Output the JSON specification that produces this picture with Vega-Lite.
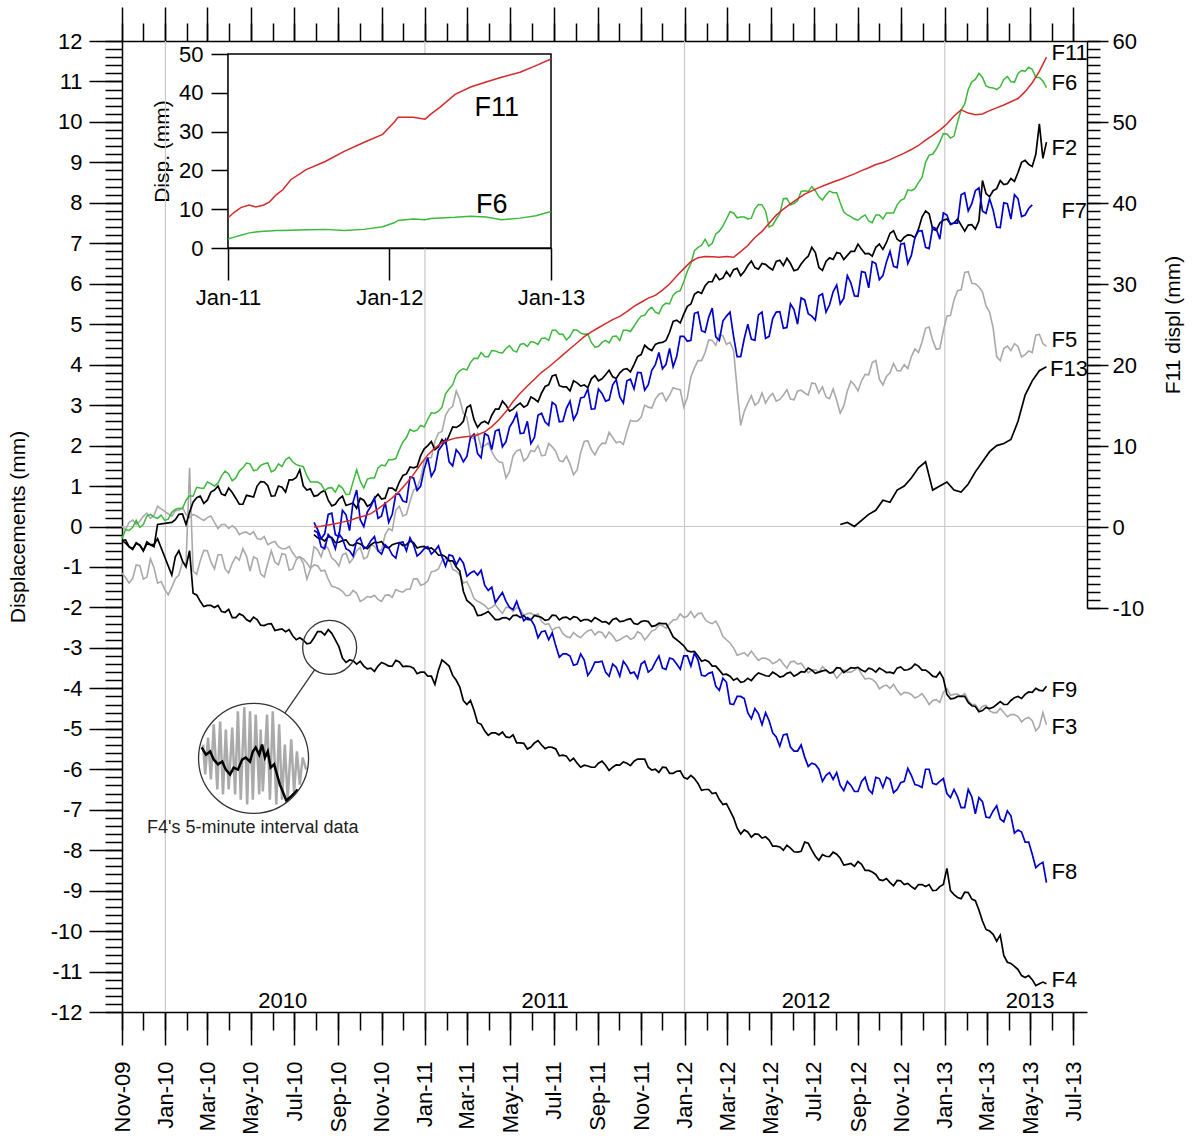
{
"$schema":"https://vega.github.io/schema/vega-lite/v6.json",
"width":965,"height":971,
"autosize":{"type":"none"},
"padding":{"left":122,"top":41,"right":107,"bottom":129},
"background":"white",
"config":{"view":{"stroke":null},"font":"Liberation Sans",
 "axis":{"domainColor":"#000","domainWidth":1.5,"tickColor":"#000","tickWidth":1.5,"labelColor":"#000","labelFont":"Liberation Sans","labelFontSize":22,"titleFont":"Liberation Sans","titleColor":"#000","titleFontWeight":"normal","titleFontSize":21,"grid":false,"labelFlush":false,"labelOverlap":false,"labelBound":false}},
"resolve":{"scale":{"x":"independent","y":"independent","color":"independent"},"axis":{"x":"independent","y":"independent"}},
"datasets":{
"years":[{"t":"2010-01-01"},{"t":"2011-01-01"},{"t":"2012-01-01"},{"t":"2013-01-01"}],
"main":[
{"t":"2009-11-01","F2":-0.35,"F3":0,"F4":-0.35,"F5":-1.15,"F6":-0.3},
{"t":"2009-11-11","F2":-0.5,"F3":0.1,"F4":-0.5,"F5":-1.4,"F6":-0.1},
{"t":"2009-11-21","F2":-0.4,"F3":0.05,"F4":-0.42,"F5":-0.95,"F6":0.15},
{"t":"2009-12-01","F2":-0.6,"F3":0.25,"F4":-0.6,"F5":-1.3,"F6":0.05},
{"t":"2009-12-11","F2":-0.45,"F3":0.2,"F4":-0.45,"F5":-0.8,"F6":0.3},
{"t":"2009-12-21","F2":0.05,"F3":0.5,"F4":-0.3,"F5":-1.4,"F6":0.2},
{"t":"2009-12-31","F5":-1.55,"F6":0.15},
{"t":"2010-01-10","F2":0.1,"F3":0.25,"F4":-1.2,"F5":-1.5,"F6":0.35},
{"t":"2010-01-20","F2":0.3,"F3":0.4,"F4":-0.6,"F5":-1.2,"F6":0.45},
{"t":"2010-01-30","F2":0.05,"F3":0.3,"F4":-1.0,"F5":-0.95,"F6":0.65},
{"t":"2010-02-04","F2":0.35,"F3":0.22,"F4":-0.6,"F5":1.45,"F6":0.76},
{"t":"2010-02-09","F2":0.6,"F3":0.3,"F4":-1.65,"F5":-1.1,"F6":0.75},
{"t":"2010-02-19","F2":0.75,"F3":0.2,"F4":-1.85,"F5":-0.85,"F6":0.95},
{"t":"2010-03-01","F2":0.65,"F3":0.22,"F4":-1.95,"F5":-0.6,"F6":1.1},
{"t":"2010-03-11","F2":0.9,"F3":0.1,"F4":-2.0,"F5":-1.05,"F6":1.0},
{"t":"2010-03-21","F2":0.8,"F3":0.05,"F4":-2.1,"F5":-0.7,"F6":1.25},
{"t":"2010-03-31","F2":0.95,"F3":-0.05,"F4":-2.05,"F5":-1.15,"F6":1.3},
{"t":"2010-04-10","F2":0.7,"F3":-0.05,"F4":-2.25,"F5":-0.75,"F6":1.2},
{"t":"2010-04-20","F2":0.55,"F3":-0.15,"F4":-2.2,"F5":-0.55,"F6":1.45},
{"t":"2010-04-30","F2":0.75,"F3":-0.2,"F4":-2.35,"F5":-1.1,"F6":1.55},
{"t":"2010-05-10","F2":1.0,"F3":-0.3,"F4":-2.3,"F5":-0.8,"F6":1.4},
{"t":"2010-05-20","F2":1.1,"F3":-0.25,"F4":-2.45,"F5":-1.25,"F6":1.55},
{"t":"2010-05-30","F2":0.75,"F3":-0.4,"F4":-2.4,"F5":-0.6,"F6":1.35},
{"t":"2010-06-09","F2":1.0,"F3":-0.5,"F4":-2.55,"F5":-0.95,"F6":1.55},
{"t":"2010-06-19","F2":0.85,"F3":-0.55,"F4":-2.6,"F5":-0.7,"F6":1.65},
{"t":"2010-06-29","F2":1.15,"F3":-0.65,"F4":-2.7,"F5":-1.05,"F6":1.6},
{"t":"2010-07-09","F2":1.4,"F3":-0.75,"F4":-2.75,"F5":-0.75,"F6":1.5},
{"t":"2010-07-19","F2":0.9,"F3":-0.9,"F4":-2.9,"F5":-1.3,"F6":1.25},
{"t":"2010-07-29","F2":0.75,"F3":-0.95,"F4":-2.75,"F5":-0.5,"F6":1.1,"F7":0.1,"F8":-0.1,"F9":-0.2,"F11":0},
{"t":"2010-08-08","F2":0.85,"F3":-1.1,"F4":-2.6,"F5":-0.75,"F6":1.05,"F7":-0.3,"F8":-0.5,"F9":-0.3,"F11":0.1},
{"t":"2010-08-18","F2":0.65,"F3":-1.3,"F4":-2.55,"F5":-0.55,"F6":0.95,"F7":0.3,"F8":-0.2,"F9":-0.25,"F11":0.25},
{"t":"2010-08-28","F2":0.55,"F3":-1.5,"F4":-2.8,"F5":-0.85,"F6":0.85,"F7":-0.2,"F8":-0.55,"F9":-0.4,"F11":0.4},
{"t":"2010-09-07","F2":0.75,"F3":-1.6,"F4":-3.25,"F5":-0.7,"F6":0.95,"F7":0.4,"F8":-0.3,"F9":-0.35,"F11":0.6},
{"t":"2010-09-17","F2":0.55,"F3":-1.7,"F4":-3.3,"F5":-0.9,"F6":0.8,"F7":-0.1,"F8":-0.6,"F9":-0.45,"F11":0.8},
{"t":"2010-09-27","F2":0.45,"F3":-1.65,"F4":-3.4,"F5":-0.6,"F6":1.4,"F7":0.9,"F8":-0.35,"F9":-0.4,"F11":1.1},
{"t":"2010-10-07","F2":0.65,"F3":-1.8,"F4":-3.45,"F5":-0.8,"F6":0.95,"F7":0.0,"F8":-0.55,"F9":-0.5,"F11":1.35},
{"t":"2010-10-17","F2":0.55,"F3":-1.75,"F4":-3.5,"F5":-0.45,"F6":1.2,"F7":0.5,"F8":-0.35,"F9":-0.45,"F11":1.65},
{"t":"2010-10-27","F2":0.8,"F3":-1.8,"F4":-3.45,"F5":-0.6,"F6":1.45,"F7":0.2,"F8":-0.6,"F9":-0.4,"F11":2.25},
{"t":"2010-11-06","F2":0.7,"F3":-1.7,"F4":-3.4,"F5":-0.2,"F6":1.5,"F7":0.6,"F8":-0.45,"F9":-0.5,"F11":2.9},
{"t":"2010-11-16","F2":0.95,"F3":-1.75,"F4":-3.45,"F5":-0.1,"F6":1.65,"F7":0.3,"F8":-0.7,"F9":-0.45,"F11":3.6},
{"t":"2010-11-26","F2":1.1,"F3":-1.6,"F4":-3.35,"F5":0.5,"F6":1.9,"F7":0.8,"F8":-0.4,"F9":-0.4,"F11":4.4},
{"t":"2010-12-06","F2":1.3,"F3":-1.55,"F4":-3.45,"F5":0.3,"F6":2.2,"F7":0.6,"F8":-0.6,"F9":-0.45,"F11":5.4},
{"t":"2010-12-16","F2":1.45,"F3":-1.3,"F4":-3.5,"F5":0.9,"F6":2.35,"F7":1.2,"F8":-0.45,"F9":-0.4,"F11":6.5},
{"t":"2010-12-26","F2":1.75,"F3":-1.45,"F4":-3.6,"F5":1.2,"F6":2.5,"F7":1.0,"F8":-0.65,"F9":-0.5,"F11":7.75},
{"t":"2011-01-05","F2":2.0,"F3":-1.35,"F4":-3.7,"F5":1.7,"F6":2.65,"F7":1.7,"F8":-0.5,"F9":-0.55,"F11":8.9},
{"t":"2011-01-15","F2":1.9,"F3":-1.1,"F4":-3.9,"F5":2.1,"F6":2.8,"F7":1.4,"F8":-0.6,"F9":-0.6,"F11":9.75},
{"t":"2011-01-25","F2":2.15,"F3":-0.85,"F4":-3.3,"F5":2.35,"F6":2.95,"F7":2.0,"F8":-0.75,"F9":-0.7,"F11":10.4},
{"t":"2011-02-04","F2":2.25,"F3":-0.8,"F4":-3.45,"F5":2.9,"F6":3.4,"F7":1.6,"F8":-0.7,"F9":-0.85,"F11":10.75},
{"t":"2011-02-14","F2":2.45,"F3":-1.1,"F4":-3.8,"F5":3.35,"F6":3.75,"F7":1.9,"F8":-0.95,"F9":-1.0,"F11":11.0},
{"t":"2011-02-24","F2":2.6,"F3":-1.4,"F4":-4.3,"F5":2.8,"F6":3.9,"F7":1.6,"F8":-0.9,"F9":-1.6,"F11":11.1},
{"t":"2011-03-06","F2":3.0,"F3":-1.55,"F4":-4.3,"F5":2.2,"F6":4.05,"F7":2.2,"F8":-1.15,"F9":-1.9,"F11":11.2},
{"t":"2011-03-16","F2":2.45,"F3":-1.85,"F4":-4.85,"F5":2.3,"F6":4.15,"F7":1.8,"F8":-1.2,"F9":-2.2,"F11":11.4},
{"t":"2011-03-26","F2":2.6,"F3":-1.95,"F4":-5.05,"F5":2.0,"F6":4.2,"F7":2.3,"F8":-1.45,"F9":-2.15,"F11":11.75},
{"t":"2011-04-05","F2":2.75,"F3":-2.0,"F4":-5.1,"F5":1.85,"F6":4.35,"F7":1.9,"F8":-1.5,"F9":-2.2,"F11":12.4},
{"t":"2011-04-15","F2":2.9,"F3":-2.05,"F4":-5.15,"F5":1.6,"F6":4.3,"F7":2.4,"F8":-1.75,"F9":-2.3,"F11":13.25},
{"t":"2011-04-25","F2":3.0,"F3":-2.0,"F4":-5.2,"F5":1.2,"F6":4.4,"F7":2.1,"F8":-1.85,"F9":-2.25,"F11":14.25},
{"t":"2011-05-05","F2":2.9,"F3":-2.1,"F4":-5.15,"F5":1.75,"F6":4.35,"F7":2.6,"F8":-2.05,"F9":-2.2,"F11":15.5},
{"t":"2011-05-15","F2":3.05,"F3":-2.05,"F4":-5.35,"F5":1.9,"F6":4.5,"F7":2.3,"F8":-2.1,"F9":-2.25,"F11":16.5},
{"t":"2011-05-25","F2":3.0,"F3":-2.15,"F4":-5.5,"F5":1.7,"F6":4.45,"F7":2.6,"F8":-2.25,"F9":-2.3,"F11":17.4},
{"t":"2011-06-04","F2":3.15,"F3":-2.2,"F4":-5.35,"F5":1.85,"F6":4.55,"F7":2.2,"F8":-2.45,"F9":-2.2,"F11":18.25},
{"t":"2011-06-14","F2":3.3,"F3":-2.35,"F4":-5.4,"F5":1.75,"F6":4.65,"F7":2.8,"F8":-2.6,"F9":-2.25,"F11":19.1},
{"t":"2011-06-24","F2":3.5,"F3":-2.4,"F4":-5.45,"F5":2.05,"F6":4.6,"F7":2.5,"F8":-2.8,"F9":-2.3,"F11":19.75},
{"t":"2011-07-04","F2":3.75,"F3":-2.5,"F4":-5.5,"F5":1.85,"F6":4.85,"F7":3.0,"F8":-2.95,"F9":-2.2,"F11":20.5},
{"t":"2011-07-14","F2":3.45,"F3":-2.65,"F4":-5.65,"F5":1.6,"F6":4.75,"F7":2.6,"F8":-3.15,"F9":-2.25,"F11":21.25},
{"t":"2011-07-24","F2":3.35,"F3":-2.75,"F4":-5.8,"F5":1.55,"F6":4.7,"F7":3.1,"F8":-3.2,"F9":-2.3,"F11":22.0},
{"t":"2011-08-03","F2":3.55,"F3":-2.7,"F4":-5.85,"F5":1.4,"F6":4.85,"F7":2.8,"F8":-3.4,"F9":-2.25,"F11":22.75},
{"t":"2011-08-13","F2":3.5,"F3":-2.65,"F4":-5.9,"F5":2.1,"F6":4.75,"F7":3.2,"F8":-3.3,"F9":-2.3,"F11":23.5},
{"t":"2011-08-23","F2":3.65,"F3":-2.55,"F4":-5.95,"F5":1.9,"F6":4.55,"F7":2.9,"F8":-3.55,"F9":-2.35,"F11":24.1},
{"t":"2011-09-02","F2":3.6,"F3":-2.6,"F4":-5.85,"F5":1.95,"F6":4.45,"F7":3.4,"F8":-3.35,"F9":-2.3,"F11":24.6},
{"t":"2011-09-12","F2":3.75,"F3":-2.75,"F4":-5.9,"F5":2.05,"F6":4.6,"F7":3.1,"F8":-3.6,"F9":-2.35,"F11":25.1},
{"t":"2011-09-22","F2":3.7,"F3":-2.7,"F4":-5.95,"F5":2.2,"F6":4.7,"F7":3.5,"F8":-3.4,"F9":-2.3,"F11":25.6},
{"t":"2011-10-02","F2":3.8,"F3":-2.8,"F4":-5.9,"F5":2.1,"F6":4.6,"F7":3.2,"F8":-3.7,"F9":-2.35,"F11":26.0},
{"t":"2011-10-12","F2":3.9,"F3":-2.7,"F4":-5.85,"F5":2.35,"F6":4.85,"F7":3.6,"F8":-3.45,"F9":-2.3,"F11":26.6},
{"t":"2011-10-22","F2":4.0,"F3":-2.75,"F4":-5.8,"F5":2.6,"F6":4.95,"F7":3.4,"F8":-3.6,"F9":-2.4,"F11":27.25},
{"t":"2011-11-01","F2":4.25,"F3":-2.65,"F4":-5.75,"F5":2.7,"F6":5.2,"F7":3.8,"F8":-3.4,"F9":-2.35,"F11":27.75},
{"t":"2011-11-11","F2":4.4,"F3":-2.7,"F4":-5.95,"F5":2.95,"F6":5.35,"F7":3.5,"F8":-3.6,"F9":-2.35,"F11":28.25},
{"t":"2011-11-21","F2":4.5,"F3":-2.55,"F4":-6.0,"F5":3.15,"F6":5.3,"F7":4.0,"F8":-3.35,"F9":-2.45,"F11":28.6},
{"t":"2011-12-01","F2":4.55,"F3":-2.45,"F4":-5.95,"F5":3.3,"F6":5.45,"F7":3.9,"F8":-3.5,"F9":-2.4,"F11":29.25},
{"t":"2011-12-11","F2":4.8,"F3":-2.4,"F4":-6.1,"F5":3.25,"F6":5.5,"F7":4.4,"F8":-3.25,"F9":-2.55,"F11":30.0},
{"t":"2011-12-21","F2":5.1,"F3":-2.3,"F4":-6.05,"F5":3.4,"F6":5.8,"F7":4.2,"F8":-3.4,"F9":-2.8,"F11":31.0},
{"t":"2011-12-31","F2":5.25,"F3":-2.25,"F4":-6.2,"F5":2.95,"F6":6.05,"F7":4.7,"F8":-3.2,"F9":-2.95,"F11":31.9},
{"t":"2012-01-10","F2":5.5,"F3":-2.1,"F4":-6.15,"F5":3.7,"F6":6.5,"F7":4.6,"F8":-3.45,"F9":-3.1,"F11":32.75},
{"t":"2012-01-20","F2":5.8,"F3":-2.15,"F4":-6.35,"F5":4.1,"F6":6.9,"F7":5.3,"F8":-3.3,"F9":-3.2,"F11":33.25},
{"t":"2012-01-30","F2":5.95,"F3":-2.3,"F4":-6.5,"F5":4.3,"F6":7.1,"F7":4.8,"F8":-3.7,"F9":-3.3,"F11":33.4},
{"t":"2012-02-09","F2":6.05,"F3":-2.4,"F4":-6.6,"F5":4.6,"F6":7.0,"F7":5.4,"F8":-3.6,"F9":-3.45,"F11":33.35},
{"t":"2012-02-19","F2":6.1,"F3":-2.5,"F4":-6.75,"F5":4.75,"F6":7.3,"F7":4.6,"F8":-4.05,"F9":-3.55,"F11":33.3},
{"t":"2012-02-29","F2":6.3,"F3":-2.8,"F4":-6.85,"F5":4.5,"F6":7.6,"F7":5.2,"F8":-3.85,"F9":-3.65,"F11":33.4},
{"t":"2012-03-10","F2":6.35,"F3":-3.0,"F4":-7.2,"F5":4.35,"F6":7.75,"F7":4.7,"F8":-4.4,"F9":-3.8,"F11":33.3},
{"t":"2012-03-20","F2":6.2,"F3":-3.15,"F4":-7.6,"F5":2.5,"F6":7.65,"F7":4.2,"F8":-4.2,"F9":-3.85,"F11":34.0},
{"t":"2012-03-30","F2":6.45,"F3":-3.2,"F4":-7.55,"F5":3.05,"F6":7.6,"F7":5.0,"F8":-4.6,"F9":-3.75,"F11":34.75},
{"t":"2012-04-09","F2":6.4,"F3":-3.2,"F4":-7.6,"F5":3.0,"F6":7.85,"F7":4.6,"F8":-4.5,"F9":-3.7,"F11":35.75},
{"t":"2012-04-19","F2":6.5,"F3":-3.25,"F4":-7.7,"F5":3.3,"F6":7.95,"F7":5.3,"F8":-4.9,"F9":-3.65,"F11":36.5},
{"t":"2012-04-29","F2":6.4,"F3":-3.3,"F4":-7.75,"F5":3.2,"F6":7.4,"F7":4.7,"F8":-4.8,"F9":-3.7,"F11":37.5},
{"t":"2012-05-09","F2":6.55,"F3":-3.35,"F4":-7.9,"F5":3.1,"F6":7.6,"F7":5.3,"F8":-5.2,"F9":-3.65,"F11":38.5},
{"t":"2012-05-19","F2":6.45,"F3":-3.4,"F4":-8.0,"F5":3.25,"F6":8.1,"F7":4.9,"F8":-5.15,"F9":-3.7,"F11":39.25},
{"t":"2012-05-29","F2":6.5,"F3":-3.35,"F4":-7.95,"F5":3.15,"F6":7.95,"F7":5.5,"F8":-5.45,"F9":-3.6,"F11":39.9},
{"t":"2012-06-08","F2":6.35,"F3":-3.4,"F4":-8.05,"F5":3.35,"F6":8.05,"F7":5.0,"F8":-5.55,"F9":-3.65,"F11":40.5},
{"t":"2012-06-18","F2":6.6,"F3":-3.5,"F4":-7.8,"F5":3.3,"F6":8.3,"F7":5.6,"F8":-5.7,"F9":-3.6,"F11":41.1},
{"t":"2012-06-28","F2":6.9,"F3":-3.55,"F4":-8.0,"F5":3.55,"F6":8.4,"F7":5.2,"F8":-5.85,"F9":-3.55,"F11":41.5},
{"t":"2012-07-08","F2":6.4,"F3":-3.6,"F4":-8.25,"F5":3.3,"F6":8.15,"F7":5.7,"F8":-6.0,"F9":-3.6,"F11":41.9},
{"t":"2012-07-18","F2":6.55,"F3":-3.55,"F4":-8.15,"F5":3.2,"F6":8.2,"F7":5.3,"F8":-6.15,"F9":-3.55,"F11":42.25},
{"t":"2012-07-28","F2":6.6,"F3":-3.6,"F4":-8.05,"F5":3.4,"F6":8.25,"F7":5.8,"F8":-6.25,"F9":-3.6,"F11":42.6},
{"t":"2012-08-07","F2":6.75,"F3":-3.65,"F4":-8.2,"F5":2.8,"F6":8.0,"F7":5.5,"F8":-6.4,"F9":-3.5,"F11":42.9,"F13":0.05},
{"t":"2012-08-17","F2":6.7,"F3":-3.6,"F4":-8.35,"F5":3.35,"F6":7.7,"F7":6.2,"F8":-6.3,"F9":-3.55,"F11":43.25,"F13":0.1},
{"t":"2012-08-27","F2":6.8,"F3":-3.55,"F4":-8.4,"F5":3.5,"F6":7.6,"F7":5.7,"F8":-6.55,"F9":-3.5,"F11":43.6,"F13":0.0},
{"t":"2012-09-06","F2":6.85,"F3":-3.65,"F4":-8.35,"F5":3.6,"F6":7.65,"F7":6.3,"F8":-6.3,"F9":-3.55,"F11":44.0,"F13":0.15},
{"t":"2012-09-16","F2":6.75,"F3":-3.75,"F4":-8.5,"F5":3.75,"F6":7.55,"F7":5.9,"F8":-6.5,"F9":-3.5,"F11":44.35,"F13":0.3},
{"t":"2012-09-26","F2":6.9,"F3":-3.85,"F4":-8.6,"F5":4.1,"F6":7.7,"F7":6.5,"F8":-6.2,"F9":-3.6,"F11":44.75,"F13":0.4},
{"t":"2012-10-06","F2":6.85,"F3":-3.95,"F4":-8.75,"F5":3.5,"F6":7.6,"F7":6.2,"F8":-6.45,"F9":-3.55,"F11":45.0,"F13":0.65},
{"t":"2012-10-16","F2":7.25,"F3":-4.0,"F4":-8.8,"F5":3.8,"F6":7.75,"F7":6.8,"F8":-6.25,"F9":-3.6,"F11":45.35,"F13":0.6},
{"t":"2012-10-26","F2":7.1,"F3":-4.05,"F4":-8.75,"F5":3.85,"F6":7.95,"F7":6.4,"F8":-6.5,"F9":-3.5,"F11":45.75,"F13":0.9},
{"t":"2012-11-05","F2":7.15,"F3":-4.1,"F4":-8.85,"F5":4.0,"F6":8.1,"F7":7.0,"F8":-6.3,"F9":-3.55,"F11":46.15,"F13":1.0},
{"t":"2012-11-15","F2":7.2,"F3":-4.15,"F4":-8.9,"F5":4.2,"F6":8.3,"F7":6.7,"F8":-6.15,"F9":-3.5,"F11":46.6,"F13":1.2},
{"t":"2012-11-25","F2":7.35,"F3":-4.2,"F4":-8.85,"F5":4.3,"F6":8.5,"F7":7.3,"F8":-6.4,"F9":-3.45,"F11":47.1,"F13":1.45},
{"t":"2012-12-05","F2":7.8,"F3":-4.25,"F4":-8.9,"F5":4.9,"F6":9.0,"F7":6.9,"F8":-6.0,"F9":-3.55,"F11":47.75,"F13":1.6},
{"t":"2012-12-15","F2":7.35,"F3":-4.3,"F4":-9.0,"F5":4.6,"F6":9.2,"F7":7.4,"F8":-6.35,"F9":-3.7,"F11":48.35,"F13":0.9},
{"t":"2012-12-25","F2":7.5,"F3":-4.35,"F4":-8.9,"F5":4.4,"F6":9.5,"F7":7.1,"F8":-6.3,"F9":-3.6,"F11":49.0,"F13":1.0},
{"t":"2013-01-04","F2":7.6,"F3":-4.0,"F4":-8.45,"F5":5.2,"F6":9.7,"F7":7.7,"F8":-6.6,"F9":-4.15,"F11":49.75,"F13":1.1},
{"t":"2013-01-14","F2":7.5,"F3":-4.15,"F4":-9.1,"F5":5.6,"F6":9.65,"F7":7.5,"F8":-6.5,"F9":-4.25,"F11":50.75,"F13":0.9},
{"t":"2013-01-24","F2":7.45,"F3":-4.2,"F4":-9.2,"F5":5.85,"F6":10.3,"F7":8.2,"F8":-6.95,"F9":-4.2,"F11":51.5,"F13":0.85},
{"t":"2013-02-03","F2":7.45,"F3":-4.3,"F4":-9.05,"F5":6.3,"F6":10.8,"F7":7.8,"F8":-6.5,"F9":-4.35,"F11":51.1,"F13":1.05},
{"t":"2013-02-13","F2":7.35,"F3":-4.4,"F4":-9.25,"F5":6.0,"F6":11.05,"F7":8.3,"F8":-7.1,"F9":-4.45,"F11":50.9,"F13":1.35},
{"t":"2013-02-23","F2":8.55,"F3":-4.45,"F4":-9.75,"F5":5.8,"F6":11.1,"F7":7.8,"F8":-6.8,"F9":-4.55,"F11":51.0,"F13":1.6},
{"t":"2013-03-05","F2":8.15,"F3":-4.55,"F4":-10.0,"F5":5.3,"F6":10.85,"F7":8.1,"F8":-7.2,"F9":-4.5,"F11":51.4,"F13":1.85},
{"t":"2013-03-15","F2":8.35,"F3":-4.6,"F4":-10.25,"F5":4.2,"F6":10.8,"F7":7.4,"F8":-6.9,"F9":-4.4,"F11":51.75,"F13":2.0},
{"t":"2013-03-25","F2":8.45,"F3":-4.6,"F4":-10.6,"F5":4.4,"F6":11.05,"F7":8.0,"F8":-7.3,"F9":-4.4,"F11":52.1,"F13":2.05},
{"t":"2013-04-04","F2":8.6,"F3":-4.65,"F4":-10.8,"F5":4.35,"F6":11.0,"F7":7.6,"F8":-7.15,"F9":-4.3,"F11":52.5,"F13":2.15},
{"t":"2013-04-14","F2":8.75,"F3":-4.7,"F4":-10.95,"F5":4.45,"F6":11.2,"F7":8.1,"F8":-7.5,"F9":-4.2,"F11":52.9,"F13":2.6},
{"t":"2013-04-24","F2":9.05,"F3":-4.75,"F4":-11.15,"F5":4.25,"F6":11.25,"F7":7.7,"F8":-7.8,"F9":-4.15,"F11":53.75,"F13":3.25},
{"t":"2013-05-04","F2":8.9,"F3":-4.8,"F4":-11.2,"F5":4.3,"F6":11.3,"F7":7.95,"F8":-8.1,"F9":-4.1,"F11":54.85,"F13":3.6},
{"t":"2013-05-14","F2":9.95,"F3":-4.95,"F4":-11.3,"F5":4.75,"F6":11.1,"F8":-8.35,"F9":-4.05,"F11":56.25,"F13":3.85},
{"t":"2013-05-24","F2":9.5,"F3":-4.9,"F4":-11.3,"F5":4.45,"F6":10.85,"F8":-8.8,"F9":-3.95,"F11":58.0,"F13":3.95},
{"t":"2009-11-06","F2":-0.33,"F3":-0.07,"F4":-0.41,"F5":-1.26,"F6":-0.08},
{"t":"2009-11-16","F2":-0.57,"F3":0.16,"F4":-0.55,"F5":-1.28,"F6":-0.02},
{"t":"2009-11-26","F2":-0.46,"F3":0.13,"F4":-0.46,"F5":-0.97,"F6":-0.02},
{"t":"2009-12-06","F2":-0.38,"F3":0.33,"F4":-0.43,"F5":-1.25,"F6":0.26},
{"t":"2009-12-16","F2":-0.5,"F3":0.28,"F4":-0.45,"F5":-1.02,"F6":0.23},
{"t":"2009-12-26","F5":-1.36,"F6":0.28},
{"t":"2010-01-05","F5":-1.69,"F6":0.18},
{"t":"2010-01-15","F2":0.17,"F3":0.39,"F4":-0.75,"F5":-1.29,"F6":0.42},
{"t":"2010-01-25","F2":0.31,"F3":0.47,"F4":-0.85,"F5":-0.88,"F6":0.44},
{"t":"2010-02-14","F2":0.71,"F3":0.26,"F4":-1.69,"F5":-1.18,"F6":0.97},
{"t":"2010-02-24","F2":0.57,"F3":0.15,"F4":-1.98,"F5":-0.59,"F6":0.94},
{"t":"2010-03-06","F2":0.85,"F3":0.26,"F4":-1.95,"F5":-0.87,"F6":1.06},
{"t":"2010-03-16","F2":1.0,"F3":-0.05,"F4":-1.95,"F5":-0.7,"F6":1.07},
{"t":"2010-03-26","F2":0.77,"F3":0.05,"F4":-2.12,"F5":-1.05,"F6":1.37},
{"t":"2010-04-05","F2":0.84,"F3":0.02,"F4":-2.25,"F5":-0.91,"F6":1.13},
{"t":"2010-04-15","F2":0.55,"F3":-0.2,"F4":-2.16,"F5":-0.83,"F6":1.37},
{"t":"2010-04-25","F2":0.77,"F3":-0.14,"F4":-2.3,"F5":-0.73,"F6":1.57},
{"t":"2010-05-05","F2":0.73,"F3":-0.13,"F4":-2.24,"F5":-0.75,"F6":1.38},
{"t":"2010-05-15","F2":1.11,"F3":-0.32,"F4":-2.44,"F5":-1.17,"F6":1.51},
{"t":"2010-05-25","F2":1.01,"F3":-0.45,"F4":-2.41,"F5":-0.91,"F6":1.57},
{"t":"2010-06-04","F2":0.76,"F3":-0.37,"F4":-2.57,"F5":-0.88,"F6":1.4},
{"t":"2010-06-14","F2":0.97,"F3":-0.55,"F4":-2.53,"F5":-0.67,"F6":1.48},
{"t":"2010-06-24","F2":1.15,"F3":-0.49,"F4":-2.55,"F5":-1.08,"F6":1.71},
{"t":"2010-07-04","F2":1.21,"F3":-0.77,"F4":-2.8,"F5":-0.82,"F6":1.53},
{"t":"2010-07-14","F2":1.0,"F3":-0.8,"F4":-2.81,"F5":-0.91,"F6":1.48},
{"t":"2010-07-24","F2":0.93,"F3":-1.03,"F4":-2.88,"F5":-1.06,"F6":1.1},
{"t":"2010-08-03","F2":0.77,"F3":-0.97,"F4":-2.6,"F5":-0.57,"F6":1.1,"F7":-0.07,"F8":-0.15,"F9":-0.28},
{"t":"2010-08-13","F2":0.89,"F3":-1.08,"F4":-2.68,"F5":-0.45,"F6":0.89,"F7":-0.18,"F8":-0.55,"F9":-0.36},
{"t":"2010-08-23","F2":0.51,"F3":-1.48,"F4":-2.64,"F5":-0.78,"F6":0.96,"F7":0.33,"F8":-0.3,"F9":-0.27},
{"t":"2010-09-02","F2":0.68,"F3":-1.54,"F4":-2.97,"F5":-0.98,"F6":1.02,"F7":-0.25,"F8":-0.18,"F9":-0.39},
{"t":"2010-09-12","F2":0.52,"F3":-1.71,"F4":-3.36,"F5":-0.66,"F6":0.79,"F7":0.29,"F8":-0.55,"F9":-0.33},
{"t":"2010-09-22","F2":0.58,"F3":-1.58,"F4":-3.32,"F5":-0.79,"F6":1.11,"F7":0.61,"F8":-0.73,"F9":-0.47},
{"t":"2010-10-02","F2":0.7,"F3":-1.85,"F4":-3.33,"F5":-0.52,"F6":1.12,"F7":0.17,"F8":-0.28,"F9":-0.43},
{"t":"2010-10-12","F2":0.5,"F3":-1.73,"F4":-3.52,"F5":-0.75,"F6":1.17,"F7":0.36,"F8":-0.5,"F9":-0.55},
{"t":"2010-10-22","F2":0.69,"F3":-1.7,"F4":-3.58,"F5":-0.49,"F6":1.2,"F7":0.7,"F8":-0.25,"F9":-0.39},
{"t":"2010-11-01","F2":0.68,"F3":-1.85,"F4":-3.36,"F5":-0.58,"F6":1.52,"F7":0.26,"F8":-0.68,"F9":-0.37},
{"t":"2010-11-11","F2":0.95,"F3":-1.69,"F4":-3.45,"F5":-0.05,"F6":1.65,"F7":0.1,"F8":-0.53,"F9":-0.53},
{"t":"2010-11-21","F2":0.88,"F3":-1.56,"F4":-3.31,"F5":0.4,"F6":1.68,"F7":0.8,"F8":-0.78,"F9":-0.42},
{"t":"2010-12-01","F2":1.26,"F3":-1.62,"F4":-3.46,"F5":0.26,"F6":2.09,"F7":0.63,"F8":-0.38,"F9":-0.47},
{"t":"2010-12-11","F2":1.47,"F3":-1.55,"F4":-3.46,"F5":0.62,"F6":2.4,"F7":1.22,"F8":-0.28,"F9":-0.36},
{"t":"2010-12-21","F2":1.48,"F3":-1.29,"F4":-3.64,"F5":0.95,"F6":2.38,"F7":0.89,"F8":-0.73,"F9":-0.53},
{"t":"2010-12-31","F2":1.92,"F3":-1.42,"F4":-3.6,"F5":1.61,"F6":2.46,"F7":1.42,"F8":-0.55,"F9":-0.49},
{"t":"2011-01-10","F2":2.1,"F3":-1.12,"F4":-3.7,"F5":1.7,"F6":2.81,"F7":1.24,"F8":-0.68,"F9":-0.53},
{"t":"2011-01-20","F2":1.97,"F3":-1.05,"F4":-3.55,"F5":2.31,"F6":2.85,"F7":1.88,"F8":-0.48,"F9":-0.71},
{"t":"2011-01-30","F2":2.05,"F3":-0.8,"F4":-3.37,"F5":2.75,"F6":3.28,"F7":2.15,"F8":-0.98,"F9":-0.75},
{"t":"2011-02-09","F2":2.46,"F3":-1.06,"F4":-3.68,"F5":2.97,"F6":3.5,"F7":1.5,"F8":-0.73,"F9":-0.85},
{"t":"2011-02-19","F2":2.5,"F3":-1.19,"F4":-3.97,"F5":3.14,"F6":3.85,"F7":1.79,"F8":-0.78,"F9":-1.1},
{"t":"2011-03-01","F2":2.94,"F3":-1.36,"F4":-4.4,"F5":2.7,"F6":3.87,"F7":1.73,"F8":-1.23,"F9":-1.83},
{"t":"2011-03-11","F2":2.64,"F3":-1.78,"F4":-4.54,"F5":2.17,"F6":4.16,"F7":2.28,"F8":-1.1,"F9":-1.99},
{"t":"2011-03-21","F2":2.56,"F3":-1.89,"F4":-4.89,"F5":1.95,"F6":4.3,"F7":1.7,"F8":-1.08,"F9":-2.19},
{"t":"2011-03-31","F2":2.54,"F3":-2.04,"F4":-5.16,"F5":2.07,"F6":4.19,"F7":2.24,"F8":-1.58,"F9":-2.1},
{"t":"2011-04-10","F2":2.9,"F3":-1.93,"F4":-5.1,"F5":1.69,"F6":4.34,"F7":2.36,"F8":-1.88,"F9":-2.3},
{"t":"2011-04-20","F2":3.1,"F3":-2.15,"F4":-5.08,"F5":1.58,"F6":4.29,"F7":1.97,"F8":-1.63,"F9":-2.26},
{"t":"2011-04-30","F2":2.85,"F3":-2.0,"F4":-5.22,"F5":1.36,"F6":4.47,"F7":2.46,"F8":-2.0,"F9":-2.3},
{"t":"2011-05-10","F2":2.99,"F3":-2.0,"F4":-5.35,"F5":1.87,"F6":4.31,"F7":2.8,"F8":-1.85,"F9":-2.19},
{"t":"2011-05-20","F2":2.95,"F3":-2.2,"F4":-5.36,"F5":1.62,"F6":4.52,"F7":2.31,"F8":-2.33,"F9":-2.2},
{"t":"2011-05-30","F2":3.2,"F3":-2.14,"F4":-5.45,"F5":1.88,"F6":4.57,"F7":2.05,"F8":-2.3,"F9":-2.31},
{"t":"2011-06-09","F2":3.08,"F3":-2.16,"F4":-5.29,"F5":2.0,"F6":4.5,"F7":2.75,"F8":-2.75,"F9":-2.22},
{"t":"2011-06-19","F2":3.46,"F3":-2.42,"F4":-5.49,"F5":1.76,"F6":4.66,"F7":2.58,"F8":-2.58,"F9":-2.32},
{"t":"2011-06-29","F2":3.72,"F3":-2.57,"F4":-5.46,"F5":1.97,"F6":4.85,"F7":3.07,"F8":-2.63,"F9":-2.19},
{"t":"2011-07-09","F2":3.48,"F3":-2.49,"F4":-5.67,"F5":1.63,"F6":4.75,"F7":2.59,"F8":-3.23,"F9":-2.31},
{"t":"2011-07-19","F2":3.45,"F3":-2.72,"F4":-5.68,"F5":1.74,"F6":4.61,"F7":2.92,"F8":-3.15,"F9":-2.24},
{"t":"2011-07-29","F2":3.6,"F3":-2.62,"F4":-5.73,"F5":1.28,"F6":4.86,"F7":2.64,"F8":-3.43,"F9":-2.23},
{"t":"2011-08-08","F2":3.47,"F3":-2.75,"F4":-5.95,"F5":1.83,"F6":4.78,"F7":3.18,"F8":-3.15,"F9":-2.34},
{"t":"2011-08-18","F2":3.43,"F3":-2.58,"F4":-5.92,"F5":2.12,"F6":4.76,"F7":3.4,"F8":-3.68,"F9":-2.3},
{"t":"2011-08-28","F2":3.73,"F3":-2.68,"F4":-5.95,"F5":1.77,"F6":4.43,"F7":2.91,"F8":-3.35,"F9":-2.25},
{"t":"2011-09-07","F2":3.65,"F3":-2.62,"F4":-5.8,"F5":2.06,"F6":4.55,"F7":3.29,"F8":-3.33,"F9":-2.36},
{"t":"2011-09-17","F2":3.86,"F3":-2.61,"F4":-6.03,"F5":2.33,"F6":4.54,"F7":3.13,"F8":-3.7,"F9":-2.41},
{"t":"2011-09-27","F2":3.66,"F3":-2.83,"F4":-5.89,"F5":2.07,"F6":4.71,"F7":3.63,"F8":-3.48,"F9":-2.27},
{"t":"2011-10-07","F2":3.88,"F3":-2.74,"F4":-5.82,"F5":2.03,"F6":4.85,"F7":3.05,"F8":-3.33,"F9":-2.34},
{"t":"2011-10-17","F2":3.82,"F3":-2.79,"F4":-5.91,"F5":2.62,"F6":4.82,"F7":3.64,"F8":-3.63,"F9":-2.28},
{"t":"2011-10-27","F2":4.2,"F3":-2.6,"F4":-5.75,"F5":2.61,"F6":5.09,"F7":3.81,"F8":-3.75,"F9":-2.42},
{"t":"2011-11-06","F2":4.48,"F3":-2.8,"F4":-5.75,"F5":3.0,"F6":5.22,"F7":3.37,"F8":-3.33,"F9":-2.33},
{"t":"2011-11-16","F2":4.35,"F3":-2.58,"F4":-6.02,"F5":2.93,"F6":5.42,"F7":3.86,"F8":-3.53,"F9":-2.47},
{"t":"2011-11-26","F2":4.54,"F3":-2.43,"F4":-6.08,"F5":3.27,"F6":5.26,"F7":4.3,"F8":-3.2,"F9":-2.39},
{"t":"2011-12-06","F2":4.6,"F3":-2.52,"F4":-5.96,"F5":3.1,"F6":5.52,"F7":4.01,"F8":-3.53,"F9":-2.4},
{"t":"2011-12-16","F2":5.07,"F3":-2.31,"F4":-6.1,"F5":3.43,"F6":5.72,"F7":3.95,"F8":-3.28,"F9":-2.73},
{"t":"2011-12-26","F2":5.03,"F3":-2.16,"F4":-6.04,"F5":3.38,"F6":5.83,"F7":4.7,"F8":-3.53,"F9":-2.87},
{"t":"2012-01-05","F2":5.44,"F3":-2.22,"F4":-6.24,"F5":3.19,"F6":6.31,"F7":4.58,"F8":-3.2,"F9":-3.07},
{"t":"2012-01-15","F2":5.74,"F3":-2.25,"F4":-6.23,"F5":3.92,"F6":6.82,"F7":5.27,"F8":-3.13,"F9":-3.09},
{"t":"2012-01-25","F2":5.76,"F3":-2.14,"F4":-6.52,"F5":4.1,"F6":6.95,"F7":4.84,"F8":-3.68,"F9":-3.33},
{"t":"2012-02-04","F2":6.05,"F3":-2.37,"F4":-6.5,"F5":4.61,"F6":6.93,"F7":5.17,"F8":-3.63,"F9":-3.34},
{"t":"2012-02-14","F2":6.23,"F3":-2.34,"F4":-6.58,"F5":4.48,"F6":7.23,"F7":4.69,"F8":-3.95,"F9":-3.45},
{"t":"2012-02-24","F2":6.14,"F3":-2.72,"F4":-6.87,"F5":4.71,"F6":7.43,"F7":5.08,"F8":-3.75,"F9":-3.66},
{"t":"2012-03-05","F2":6.18,"F3":-2.88,"F4":-7.02,"F5":4.55,"F6":7.78,"F7":5.3,"F8":-4.38,"F9":-3.7},
{"t":"2012-03-15","F2":6.38,"F3":-3.18,"F4":-7.45,"F5":3.4,"F6":7.63,"F7":4.2,"F8":-4.2,"F9":-3.75},
{"t":"2012-03-25","F2":6.3,"F3":-3.12,"F4":-7.5,"F5":2.84,"F6":7.65,"F7":4.64,"F8":-4.25,"F9":-3.83},
{"t":"2012-04-04","F2":6.56,"F3":-3.08,"F4":-7.68,"F5":3.23,"F6":7.62,"F7":4.63,"F8":-4.75,"F9":-3.81},
{"t":"2012-04-14","F2":6.36,"F3":-3.31,"F4":-7.61,"F5":3.07,"F6":7.96,"F7":5.23,"F8":-4.63,"F9":-3.62},
{"t":"2012-04-24","F2":6.48,"F3":-3.26,"F4":-7.67,"F5":3.05,"F6":7.8,"F7":4.65,"F8":-4.6,"F9":-3.69},
{"t":"2012-05-04","F2":6.34,"F3":-3.39,"F4":-7.9,"F5":3.29,"F6":7.45,"F7":5.14,"F8":-5.1,"F9":-3.6},
{"t":"2012-05-14","F2":6.58,"F3":-3.28,"F4":-7.92,"F5":3.14,"F6":7.73,"F7":5.31,"F8":-5.43,"F9":-3.72},
{"t":"2012-05-24","F2":6.63,"F3":-3.5,"F4":-7.88,"F5":3.38,"F6":8.11,"F7":4.92,"F8":-5.13,"F9":-3.63},
{"t":"2012-06-03","F2":6.32,"F3":-3.33,"F4":-8.04,"F5":3.13,"F6":7.98,"F7":5.36,"F8":-5.55,"F9":-3.7},
{"t":"2012-06-13","F2":6.49,"F3":-3.38,"F4":-8.03,"F5":3.37,"F6":8.28,"F7":5.65,"F8":-5.4,"F9":-3.59},
{"t":"2012-06-23","F2":6.68,"F3":-3.62,"F4":-7.83,"F5":3.25,"F6":8.28,"F7":5.26,"F8":-5.93,"F9":-3.5},
{"t":"2012-07-03","F2":6.77,"F3":-3.54,"F4":-8.15,"F5":3.53,"F6":8.3,"F7":5.1,"F8":-5.88,"F9":-3.63},
{"t":"2012-07-13","F2":6.33,"F3":-3.46,"F4":-8.11,"F5":3.45,"F6":8.07,"F7":5.75,"F8":-6.3,"F9":-3.57},
{"t":"2012-07-23","F2":6.64,"F3":-3.62,"F4":-8.16,"F5":3.16,"F6":8.29,"F7":5.48,"F8":-6.08,"F9":-3.62},
{"t":"2012-08-02","F2":6.77,"F3":-3.75,"F4":-8.1,"F5":3.12,"F6":8.25,"F7":5.97,"F8":-6.08,"F9":-3.49},
{"t":"2012-08-12","F2":6.6,"F3":-3.54,"F4":-8.37,"F5":2.98,"F6":7.77,"F7":5.64,"F8":-6.53,"F9":-3.61},
{"t":"2012-08-22","F2":6.8,"F3":-3.6,"F4":-8.33,"F5":3.59,"F6":7.66,"F7":6.02,"F8":-6.4,"F9":-3.49},
{"t":"2012-09-01","F2":6.98,"F3":-3.49,"F4":-8.28,"F5":3.35,"F6":7.57,"F7":5.69,"F8":-6.55,"F9":-3.48},
{"t":"2012-09-11","F2":6.74,"F3":-3.77,"F4":-8.5,"F5":3.76,"F6":7.7,"F7":6.28,"F8":-6.2,"F9":-3.59},
{"t":"2012-09-21","F2":6.68,"F3":-3.78,"F4":-8.54,"F5":4.05,"F6":7.51,"F7":6.55,"F8":-6.6,"F9":-3.53},
{"t":"2012-10-01","F2":6.98,"F3":-4.01,"F4":-8.73,"F5":3.64,"F6":7.7,"F7":6.1,"F8":-6.23,"F9":-3.5},
{"t":"2012-10-11","F2":7.02,"F3":-3.92,"F4":-8.7,"F5":3.71,"F6":7.75,"F7":6.54,"F8":-6.2,"F9":-3.61},
{"t":"2012-10-21","F2":7.31,"F3":-3.9,"F4":-8.88,"F5":4.03,"F6":7.75,"F7":6.43,"F8":-6.58,"F9":-3.63},
{"t":"2012-10-31","F2":7.04,"F3":-4.16,"F4":-8.76,"F5":3.85,"F6":8.06,"F7":6.98,"F8":-6.33,"F9":-3.47},
{"t":"2012-11-10","F2":7.21,"F3":-4.11,"F4":-8.82,"F5":3.9,"F6":8.32,"F7":6.5,"F8":-5.98,"F9":-3.54},
{"t":"2012-11-20","F2":7.14,"F3":-4.24,"F4":-8.96,"F5":4.39,"F6":8.35,"F7":7.14,"F8":-6.38,"F9":-3.4},
{"t":"2012-11-30","F2":7.65,"F3":-4.13,"F4":-8.85,"F5":4.56,"F6":8.63,"F7":7.31,"F8":-6.45,"F9":-3.55},
{"t":"2012-12-10","F2":7.73,"F3":-4.4,"F4":-8.85,"F5":4.93,"F6":9.18,"F7":6.87,"F8":-6.0,"F9":-3.61},
{"t":"2012-12-20","F2":7.32,"F3":-4.28,"F4":-8.99,"F5":4.38,"F6":9.33,"F7":7.36,"F8":-6.38,"F9":-3.72},
{"t":"2012-12-30","F2":7.57,"F3":-4.1,"F4":-8.85,"F5":4.84,"F6":9.71,"F7":7.75,"F8":-6.23,"F9":-3.75},
{"t":"2013-01-09","F2":7.48,"F3":-4.17,"F4":-9.0,"F5":5.22,"F6":9.6,"F7":7.46,"F8":-6.7,"F9":-4.26},
{"t":"2013-01-19","F2":7.6,"F3":-4.14,"F4":-9.17,"F5":5.83,"F6":10.0,"F7":7.5,"F8":-6.68,"F9":-4.2},
{"t":"2013-01-29","F2":7.3,"F3":-4.13,"F4":-9.04,"F5":6.28,"F6":10.44,"F7":8.25,"F8":-6.95,"F9":-4.2},
{"t":"2013-02-08","F2":7.46,"F3":-4.4,"F4":-9.21,"F5":6.01,"F6":10.99,"F7":7.98,"F8":-6.68,"F9":-4.43},
{"t":"2013-02-18","F2":7.55,"F3":-4.55,"F4":-9.48,"F5":5.92,"F6":11.2,"F7":8.37,"F8":-6.7,"F9":-4.58},
{"t":"2013-02-28","F2":8.23,"F3":-4.42,"F4":-9.96,"F5":5.45,"F6":10.89,"F7":7.74,"F8":-7.18,"F9":-4.47},
{"t":"2013-03-10","F2":8.3,"F3":-4.6,"F4":-10.08,"F5":4.91,"F6":10.84,"F7":7.82,"F8":-7.03,"F9":-4.47},
{"t":"2013-03-20","F2":8.55,"F3":-4.49,"F4":-10.1,"F5":4.1,"F6":10.87,"F7":7.39,"F8":-7.23,"F9":-4.33},
{"t":"2013-03-30","F2":8.47,"F3":-4.7,"F4":-10.77,"F5":4.46,"F6":11.12,"F7":7.98,"F8":-7.03,"F9":-4.4},
{"t":"2013-04-09","F2":8.53,"F3":-4.65,"F4":-10.87,"F5":4.52,"F6":10.98,"F7":8.2,"F8":-7.58,"F9":-4.23},
{"t":"2013-04-19","F2":9.0,"F3":-4.83,"F4":-11.1,"F5":4.19,"F6":11.27,"F7":7.66,"F8":-7.55,"F9":-4.25},
{"t":"2013-04-29","F2":8.95,"F3":-4.72,"F4":-11.1,"F5":4.34,"F6":11.35,"F7":7.86,"F8":-7.8,"F9":-4.09},
{"t":"2013-05-09","F2":9.2,"F3":-5.05,"F4":-11.35,"F5":4.73,"F6":11.1,"F8":-8.43,"F9":-4.0},
{"t":"2013-05-19","F2":9.1,"F3":-4.6,"F4":-11.26,"F5":4.52,"F6":11.01,"F8":-8.3,"F9":-4.06}
],
"inset":[
{"t":"2011-01-01","F11":7.8,"F6":2.3},{"t":"2011-01-15","F11":9.2,"F6":2.8},{"t":"2011-01-30","F11":10.4,"F6":3.3},{"t":"2011-02-18","F11":11.1,"F6":3.9},{"t":"2011-03-05","F11":10.6,"F6":4.1},{"t":"2011-03-23","F11":11.1,"F6":4.3},{"t":"2011-04-05","F11":11.9,"F6":4.4},{"t":"2011-04-20","F11":13.7,"F6":4.5},{"t":"2011-05-05","F11":15.0,"F6":4.5},{"t":"2011-05-23","F11":17.6,"F6":4.6},{"t":"2011-06-27","F11":20.2,"F6":4.7},{"t":"2011-08-09","F11":22.3,"F6":4.8},{"t":"2011-09-21","F11":24.9,"F6":4.5},{"t":"2011-11-04","F11":27.2,"F6":4.8},{"t":"2011-12-17","F11":29.3,"F6":5.5},{"t":"2012-01-12","F11":32.4,"F6":6.5},{"t":"2012-01-21","F11":33.7,"F6":7.1},{"t":"2012-02-24","F11":33.7,"F6":7.5},{"t":"2012-03-22","F11":33.2,"F6":7.3},{"t":"2012-04-04","F11":34.5,"F6":7.6},{"t":"2012-04-25","F11":36.3,"F6":7.7},{"t":"2012-05-29","F11":39.6,"F6":7.9},{"t":"2012-07-03","F11":41.5,"F6":8.2},{"t":"2012-08-07","F11":42.8,"F6":8.0},{"t":"2012-09-11","F11":44.0,"F6":7.3},{"t":"2012-10-23","F11":45.3,"F6":7.7},{"t":"2012-11-28","F11":47.0,"F6":8.3},{"t":"2013-01-01","F11":48.7,"F6":9.4}
],
"zg":[
{"t":"2010-02-23","v":-5.39},{"t":"2010-02-26","v":-6.13},{"t":"2010-03-02","v":-5.22},{"t":"2010-03-06","v":-6.25},{"t":"2010-03-10","v":-4.89},{"t":"2010-03-15","v":-6.5},{"t":"2010-03-19","v":-4.82},{"t":"2010-03-23","v":-6.62},{"t":"2010-03-27","v":-5.02},{"t":"2010-03-31","v":-6.5},{"t":"2010-04-05","v":-4.97},{"t":"2010-04-09","v":-6.62},{"t":"2010-04-13","v":-4.57},{"t":"2010-04-17","v":-6.75},{"t":"2010-04-22","v":-4.47},{"t":"2010-04-26","v":-6.87},{"t":"2010-04-30","v":-4.57},{"t":"2010-05-04","v":-6.75},{"t":"2010-05-08","v":-4.65},{"t":"2010-05-13","v":-6.62},{"t":"2010-05-15","v":-5.02},{"t":"2010-05-18","v":-6.55},{"t":"2010-05-24","v":-4.65},{"t":"2010-05-28","v":-6.75},{"t":"2010-06-01","v":-4.57},{"t":"2010-06-06","v":-6.87},{"t":"2010-06-10","v":-4.89},{"t":"2010-06-14","v":-6.75},{"t":"2010-06-18","v":-5.39},{"t":"2010-06-22","v":-6.75},{"t":"2010-06-27","v":-5.26},{"t":"2010-07-01","v":-6.57},{"t":"2010-07-05","v":-5.56},{"t":"2010-07-09","v":-6.38},{"t":"2010-07-13","v":-5.71},{"t":"2010-07-18","v":-6.01}
],
"zb":[
{"t":"2010-02-21","v":-5.46},{"t":"2010-02-27","v":-5.64},{"t":"2010-03-05","v":-5.56},{"t":"2010-03-10","v":-5.76},{"t":"2010-03-16","v":-5.88},{"t":"2010-03-22","v":-5.81},{"t":"2010-03-27","v":-6.01},{"t":"2010-04-02","v":-6.13},{"t":"2010-04-07","v":-5.96},{"t":"2010-04-13","v":-6.01},{"t":"2010-04-19","v":-5.76},{"t":"2010-04-24","v":-5.71},{"t":"2010-04-30","v":-5.81},{"t":"2010-05-04","v":-5.56},{"t":"2010-05-08","v":-5.46},{"t":"2010-05-13","v":-5.64},{"t":"2010-05-17","v":-5.39},{"t":"2010-05-21","v":-5.71},{"t":"2010-05-25","v":-5.56},{"t":"2010-05-29","v":-5.96},{"t":"2010-06-03","v":-5.88},{"t":"2010-06-07","v":-6.13},{"t":"2010-06-11","v":-6.38},{"t":"2010-06-15","v":-6.55},{"t":"2010-06-20","v":-6.77},{"t":"2010-06-25","v":-6.7},{"t":"2010-07-01","v":-6.6},{"t":"2010-07-06","v":-6.5}
],
"labels":[
{"t":"2013-05-31","v":11.7,"label":"F11"},{"t":"2013-05-31","v":10.95,"label":"F6"},{"t":"2013-05-31","v":9.35,"label":"F2"},{"t":"2013-06-14","v":7.8,"label":"F7"},{"t":"2013-05-31","v":4.6,"label":"F5"},{"t":"2013-05-29","v":3.9,"label":"F13"},{"t":"2013-05-31","v":-4.05,"label":"F9"},{"t":"2013-05-31","v":-4.95,"label":"F3"},{"t":"2013-05-31","v":-8.55,"label":"F8"},{"t":"2013-05-31","v":-11.2,"label":"F4"}
],
"yearlab":[
{"t":"2010-06-15","v":-11.72,"label":"2010"},{"t":"2011-06-19","v":-11.72,"label":"2011"},{"t":"2012-06-20","v":-11.72,"label":"2012"},{"t":"2013-05-01","v":-11.72,"label":"2013"}
]
},
"layer":[
{"data":{"name":"years"},"mark":{"type":"rule","color":"#c8c8c8","strokeWidth":1.2},
 "encoding":{"x":{"field":"t","type":"temporal","scale":{"type":"utc","domain":[{"year":2009,"month":11,"date":1,"utc":true},{"year":2013,"month":7,"date":20,"utc":true}]},
  "axis":{"orient":"bottom","tickCount":{"interval":"month","step":2},"tickSize":33,"labelAngle":270,"labelPadding":16,"labelExpr":"utcFormat(datum.value, '%b-%y')","title":null}}}},
{"data":{"values":[{"v":0}]},"mark":{"type":"rule","color":"#c8c8c8","strokeWidth":1.2},
 "encoding":{"y":{"field":"v","type":"quantitative","scale":{"domain":[-12,12],"nice":false,"zero":false},
  "axis":{"orient":"left","values":[-12,-11,-10,-9,-8,-7,-6,-5,-4,-3,-2,-1,0,1,2,3,4,5,6,7,8,9,10,11,12],"tickSize":33,"labelPadding":7,"labelExpr":"'' + datum.value","title":"Displacements (mm)","titlePadding":22}}}},
{"data":{"values":[{"t":"2010-01-01","v":0}]},"mark":{"type":"point","opacity":0},
 "encoding":{"x":{"field":"t","type":"temporal","scale":{"type":"utc","domain":[{"year":2009,"month":11,"date":1,"utc":true},{"year":2013,"month":7,"date":20,"utc":true}]},
  "axis":{"orient":"bottom","tickCount":{"interval":"month","step":1},"tickSize":18,"labels":false,"domain":false,"title":null}},
  "y":{"field":"v","type":"quantitative","scale":{"domain":[-12,12],"nice":false,"zero":false},
  "axis":{"orient":"left","tickCount":120,"tickSize":17,"labels":false,"domain":false,"title":null}}}},
{"data":{"values":[{"t":"2010-01-01","f":0}]},"mark":{"type":"point","opacity":0},
 "encoding":{"x":{"field":"t","type":"temporal","scale":{"type":"utc","domain":[{"year":2009,"month":11,"date":1,"utc":true},{"year":2013,"month":7,"date":20,"utc":true}]},
  "axis":{"orient":"top","tickCount":{"interval":"month","step":2},"tickSize":34,"labels":false,"title":null}},
  "y":{"field":"f","type":"quantitative","scale":{"domain":[-10,60],"range":[567,0],"nice":false,"zero":false},
  "axis":{"orient":"right","values":[-10,0,10,20,30,40,50,60],"tickSize":21,"labelPadding":4,"labelExpr":"'' + datum.value","title":"F11 displ (mm)","titleAngle":270,"titlePadding":40}}}},
{"data":{"values":[{"t":"2010-01-01","f":0}]},"mark":{"type":"point","opacity":0},
 "encoding":{"x":{"field":"t","type":"temporal","scale":{"type":"utc","domain":[{"year":2009,"month":11,"date":1,"utc":true},{"year":2013,"month":7,"date":20,"utc":true}]},
  "axis":{"orient":"top","tickCount":{"interval":"month","step":1},"tickSize":18,"labels":false,"domain":false,"title":null}},
  "y":{"field":"f","type":"quantitative","scale":{"domain":[-10,60],"range":[567,0],"nice":false,"zero":false},
  "axis":{"orient":"right","tickCount":70,"tickSize":13,"labels":false,"domain":false,"title":null}}}},
{"data":{"values":[{"a":"2011-01-01","b":"2013-01-01","lo":0,"hi":50}]},"mark":{"type":"rect","fill":"white","stroke":"#000","strokeWidth":1.5},
 "encoding":{"x":{"field":"a","type":"temporal","scale":{"type":"utc","domain":[{"year":2011,"month":1,"date":1,"utc":true},{"year":2013,"month":1,"date":1,"utc":true}],"range":[106,429]},"axis":null},
  "x2":{"field":"b"},
  "y":{"field":"lo","type":"quantitative","scale":{"domain":[0,50],"range":[207,13],"nice":false,"zero":false},"axis":null},
  "y2":{"field":"hi"}}},
{"data":{"name":"inset"},"transform":[{"fold":["F11","F6"],"as":["s","v"]}],"mark":{"type":"line","strokeWidth":1.5},
 "encoding":{"x":{"field":"t","type":"temporal","scale":{"type":"utc","domain":[{"year":2011,"month":1,"date":1,"utc":true},{"year":2013,"month":1,"date":1,"utc":true}],"range":[106,429]},
  "axis":{"orient":"bottom","offset":-764,"values":[{"year":2011,"month":1,"date":1,"utc":true},{"year":2012,"month":1,"date":1,"utc":true},{"year":2013,"month":1,"date":1,"utc":true}],"tickSize":32,"labelPadding":7,"labelAngle":0,"labelExpr":"utcFormat(datum.value, '%b-%y')","title":null}},
  "y":{"field":"v","type":"quantitative","scale":{"domain":[0,50],"range":[207,13],"nice":false,"zero":false},
  "axis":{"orient":"left","offset":-106,"values":[0,10,20,30,40,50],"tickSize":17,"labelPadding":8,"title":"Disp. (mm)","titlePadding":6}},
  "color":{"field":"s","type":"nominal","scale":{"domain":["F11","F6"],"range":["#d42a2a","#3cb83c"]},"legend":null}}},
{"data":{"name":"main"},"transform":[{"fold":["F3","F5"],"as":["s","v"]},{"filter":"isValid(datum.v)"}],"mark":{"type":"line","color":"#a9a9a9","strokeWidth":1.6},
 "encoding":{"x":{"field":"t","type":"temporal","scale":{"type":"utc","domain":[{"year":2009,"month":11,"date":1,"utc":true},{"year":2013,"month":7,"date":20,"utc":true}]},"axis":null},
  "y":{"field":"v","type":"quantitative","scale":{"domain":[-12,12],"nice":false,"zero":false},"axis":null},"detail":{"field":"s"}}},
{"data":{"name":"main"},"transform":[{"fold":["F2","F4","F9","F13"],"as":["s","v"]},{"filter":"isValid(datum.v)"}],"mark":{"type":"line","color":"#000","strokeWidth":1.7},
 "encoding":{"x":{"field":"t","type":"temporal","scale":{"type":"utc","domain":[{"year":2009,"month":11,"date":1,"utc":true},{"year":2013,"month":7,"date":20,"utc":true}]},"axis":null},
  "y":{"field":"v","type":"quantitative","scale":{"domain":[-12,12],"nice":false,"zero":false},"axis":null},"detail":{"field":"s"}}},
{"data":{"name":"main"},"transform":[{"fold":["F7","F8"],"as":["s","v"]},{"filter":"isValid(datum.v)"}],"mark":{"type":"line","color":"#0000cc","strokeWidth":1.7},
 "encoding":{"x":{"field":"t","type":"temporal","scale":{"type":"utc","domain":[{"year":2009,"month":11,"date":1,"utc":true},{"year":2013,"month":7,"date":20,"utc":true}]},"axis":null},
  "y":{"field":"v","type":"quantitative","scale":{"domain":[-12,12],"nice":false,"zero":false},"axis":null},"detail":{"field":"s"}}},
{"data":{"name":"main"},"transform":[{"filter":"isValid(datum.F6)"}],"mark":{"type":"line","color":"#3cb83c","strokeWidth":1.5},
 "encoding":{"x":{"field":"t","type":"temporal","scale":{"type":"utc","domain":[{"year":2009,"month":11,"date":1,"utc":true},{"year":2013,"month":7,"date":20,"utc":true}]},"axis":null},
  "y":{"field":"F6","type":"quantitative","scale":{"domain":[-12,12],"nice":false,"zero":false},"axis":null}}},
{"data":{"name":"main"},"transform":[{"filter":"isValid(datum.F11)"}],"mark":{"type":"line","color":"#d42a2a","strokeWidth":1.5},
 "encoding":{"x":{"field":"t","type":"temporal","scale":{"type":"utc","domain":[{"year":2009,"month":11,"date":1,"utc":true},{"year":2013,"month":7,"date":20,"utc":true}]},"axis":null},
  "y":{"field":"F11","type":"quantitative","scale":{"domain":[-10,60],"range":[567,0],"nice":false,"zero":false},"axis":null}}},
{"data":{"name":"zg"},"mark":{"type":"line","color":"#aaaaaa","strokeWidth":2.5},
 "encoding":{"x":{"field":"t","type":"temporal","scale":{"type":"utc","domain":[{"year":2009,"month":11,"date":1,"utc":true},{"year":2013,"month":7,"date":20,"utc":true}]},"axis":null},
  "y":{"field":"v","type":"quantitative","scale":{"domain":[-12,12],"nice":false,"zero":false},"axis":null}}},
{"data":{"name":"zb"},"mark":{"type":"line","color":"#000","strokeWidth":2.5},
 "encoding":{"x":{"field":"t","type":"temporal","scale":{"type":"utc","domain":[{"year":2009,"month":11,"date":1,"utc":true},{"year":2013,"month":7,"date":20,"utc":true}]},"axis":null},
  "y":{"field":"v","type":"quantitative","scale":{"domain":[-12,12],"nice":false,"zero":false},"axis":null}}},
{"data":{"values":[{"t":"2010-05-05","v":-5.73}]},"mark":{"type":"point","shape":"circle","filled":false,"size":12100,"stroke":"#333","strokeWidth":1.3,"opacity":1},
 "encoding":{"x":{"field":"t","type":"temporal","scale":{"type":"utc","domain":[{"year":2009,"month":11,"date":1,"utc":true},{"year":2013,"month":7,"date":20,"utc":true}]},"axis":null},
  "y":{"field":"v","type":"quantitative","scale":{"domain":[-12,12],"nice":false,"zero":false},"axis":null}}},
{"data":{"values":[{"t":"2010-08-20","v":-2.99}]},"mark":{"type":"point","shape":"circle","filled":false,"size":2916,"stroke":"#333","strokeWidth":1.3,"opacity":1},
 "encoding":{"x":{"field":"t","type":"temporal","scale":{"type":"utc","domain":[{"year":2009,"month":11,"date":1,"utc":true},{"year":2013,"month":7,"date":20,"utc":true}]},"axis":null},
  "y":{"field":"v","type":"quantitative","scale":{"domain":[-12,12],"nice":false,"zero":false},"axis":null}}},
{"data":{"values":[{"t":"2010-06-18","v":-4.61},{"t":"2010-07-30","v":-3.54}]},"mark":{"type":"line","color":"#333","strokeWidth":1.3},
 "encoding":{"x":{"field":"t","type":"temporal","scale":{"type":"utc","domain":[{"year":2009,"month":11,"date":1,"utc":true},{"year":2013,"month":7,"date":20,"utc":true}]},"axis":null},
  "y":{"field":"v","type":"quantitative","scale":{"domain":[-12,12],"nice":false,"zero":false},"axis":null}}},
{"data":{"name":"labels"},"mark":{"type":"text","align":"left","baseline":"middle","fontSize":22,"font":"Liberation Sans","color":"#000"},
 "encoding":{"x":{"field":"t","type":"temporal","scale":{"type":"utc","domain":[{"year":2009,"month":11,"date":1,"utc":true},{"year":2013,"month":7,"date":20,"utc":true}]},"axis":null},
  "y":{"field":"v","type":"quantitative","scale":{"domain":[-12,12],"nice":false,"zero":false},"axis":null},"text":{"field":"label"}}},
{"data":{"name":"yearlab"},"mark":{"type":"text","align":"center","baseline":"middle","fontSize":22,"font":"Liberation Sans","color":"#000"},
 "encoding":{"x":{"field":"t","type":"temporal","scale":{"type":"utc","domain":[{"year":2009,"month":11,"date":1,"utc":true},{"year":2013,"month":7,"date":20,"utc":true}]},"axis":null},
  "y":{"field":"v","type":"quantitative","scale":{"domain":[-12,12],"nice":false,"zero":false},"axis":null},"text":{"field":"label"}}},
{"data":{"values":[{"t":"2010-05-04","v":-7.46,"label":"F4's 5-minute interval data"}]},"mark":{"type":"text","align":"center","baseline":"middle","fontSize":18,"font":"Liberation Sans","color":"#222"},
 "encoding":{"x":{"field":"t","type":"temporal","scale":{"type":"utc","domain":[{"year":2009,"month":11,"date":1,"utc":true},{"year":2013,"month":7,"date":20,"utc":true}]},"axis":null},
  "y":{"field":"v","type":"quantitative","scale":{"domain":[-12,12],"nice":false,"zero":false},"axis":null},"text":{"field":"label"}}},
{"data":{"values":[{"t":"2012-08-31","v":36.2,"label":"F11"},{"t":"2012-08-20","v":11.2,"label":"F6"}]},"mark":{"type":"text","align":"center","baseline":"middle","fontSize":27,"font":"Liberation Sans","color":"#000"},
 "encoding":{"x":{"field":"t","type":"temporal","scale":{"type":"utc","domain":[{"year":2011,"month":1,"date":1,"utc":true},{"year":2013,"month":1,"date":1,"utc":true}],"range":[106,429]},"axis":null},
  "y":{"field":"v","type":"quantitative","scale":{"domain":[0,50],"range":[207,13],"nice":false,"zero":false},"axis":null},"text":{"field":"label"}}}
]
}
